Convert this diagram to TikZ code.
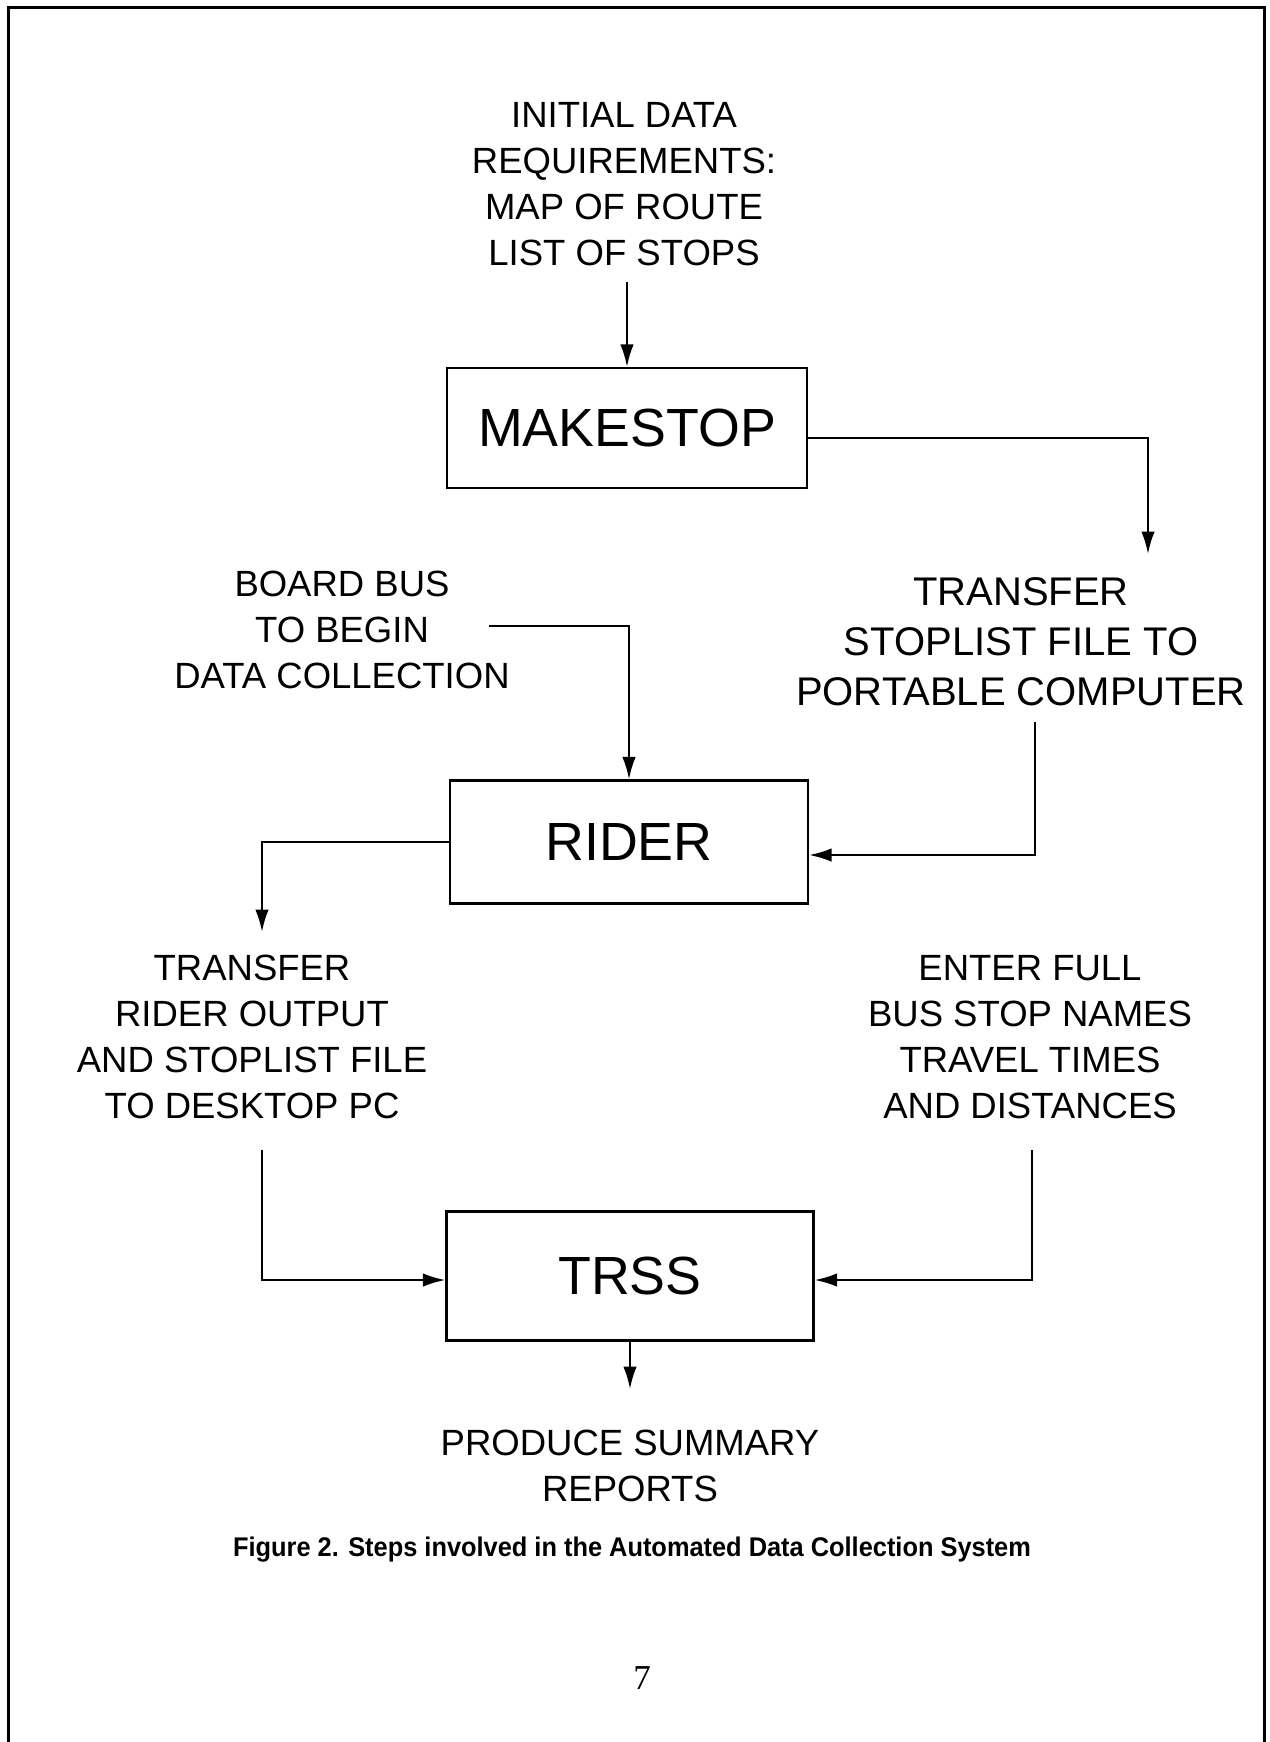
\documentclass[tikz,border=0pt]{standalone}
\usepackage{fontspec}
\setmainfont{Liberation Sans}
\newfontfamily\pagefont{Liberation Serif}
\newfontfamily\capfont[FakeStretch=0.94]{Liberation Sans}
\usetikzlibrary{arrows.meta}
\begin{document}
\begin{tikzpicture}[x=0.4pt,y=-0.4pt,
  lbl/.style={align=center,inner sep=0pt,font=\fontsize{14.6}{18.4}\selectfont},
  biglbl/.style={align=center,inner sep=0pt,font=\fontsize{16}{20}\selectfont},
  proc/.style={draw,line width=0.9pt,inner sep=0pt,font=\fontsize{21.5}{24}\selectfont},
  conn/.style={line width=0.9pt,-{Latex[length=9pt,width=5.4pt]}},
  captionstyle/.style={inner sep=0pt,font=\capfont\bfseries\fontsize{10.8}{13}\selectfont},
  pagestyle/.style={inner sep=0pt,font=\pagefont\fontsize{14}{16}\selectfont},
  framestyle/.style={line width=1.2pt}]
\useasboundingbox (0,0) rectangle (1270,1742);
\draw[framestyle] (8,1742) -- (8,7) -- (1264,7) -- (1264,1742);

\node[lbl] (req) at (624,184) {INITIAL DATA\\REQUIREMENTS:\\MAP OF ROUTE\\LIST OF STOPS};
\node[proc,minimum width=144pt,minimum height=48pt] (mk) at (627,428) {MAKESTOP};
\node[biglbl] (tsf) at (1021,642) {TRANSFER\\STOPLIST FILE TO\\PORTABLE COMPUTER};
\node[lbl] (board) at (342,630) {BOARD BUS\\TO BEGIN\\DATA COLLECTION};
\node[proc,minimum width=143.2pt,minimum height=49.2pt] (rider) at (629,842) {RIDER};
\node[lbl] (tro) at (252,1037) {TRANSFER\\RIDER OUTPUT\\AND STOPLIST FILE\\TO DESKTOP PC};
\node[lbl] (ent) at (1030,1037) {ENTER FULL\\BUS STOP NAMES\\TRAVEL TIMES\\AND DISTANCES};
\node[proc,minimum width=146.8pt,minimum height=51.6pt] (trss) at (630,1276) {TRSS};
\node[lbl] (prod) at (630,1466) {PRODUCE SUMMARY\\REPORTS};
\node[captionstyle] (cap) at (632,1550) {Figure 2. Steps involved in the Automated Data Collection System};
\node[pagestyle] (pg) at (642,1678) {7};

\coordinate (a1) at (627,282);
\coordinate (t1) at (1148,554);
\coordinate (b1) at (489,626);
\coordinate (t2) at (1035,722);
\coordinate (r1) at (262,932);
\coordinate (d1) at (262,1150);
\coordinate (e1) at (1032,1150);
\coordinate (p1) at (630,1389);

\draw[conn] (a1) -- (mk.north);
\draw[conn] (mk.east |- 0,438) -| (t1);
\draw[conn] (b1) -| (rider.north);
\draw[conn] (t2) |- (rider.east |- 0,855);
\draw[conn] (rider.west) -| (r1);
\draw[conn] (d1) |- (trss.west |- 0,1280);
\draw[conn] (e1) |- (trss.east |- 0,1280);
\draw[conn] (trss.south) -- (p1);
\end{tikzpicture}
\end{document}
